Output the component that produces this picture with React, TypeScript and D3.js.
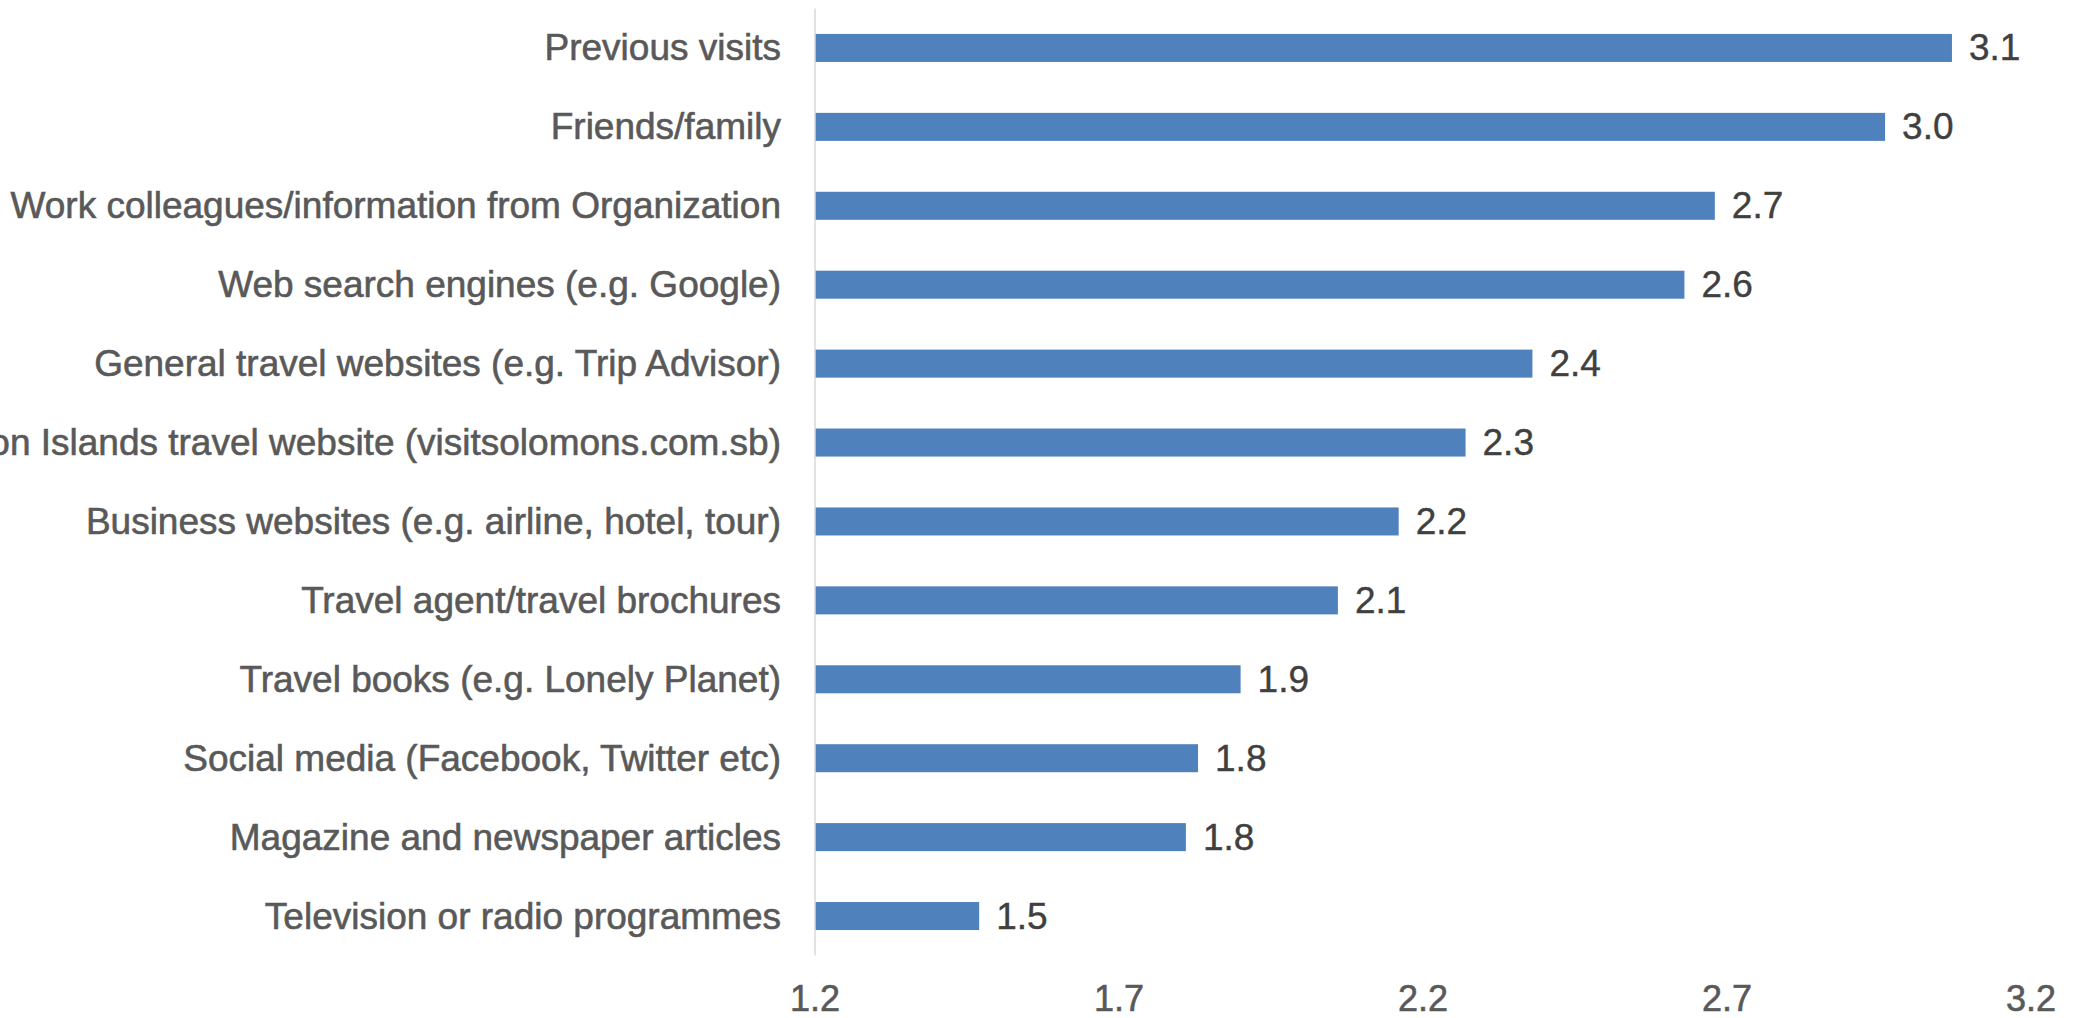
import React, { useMemo } from 'react';
import * as d3 from 'd3';

const W = 2082;
const H = 1018;

const CATEGORIES = [
  'Previous visits',
  'Friends/family',
  'Work colleagues/information from Organization',
  'Web search engines (e.g. Google)',
  'General travel websites (e.g. Trip Advisor)',
  'Solomon Islands travel website (visitsolomons.com.sb)',
  'Business websites (e.g. airline, hotel, tour)',
  'Travel agent/travel brochures',
  'Travel books (e.g. Lonely Planet)',
  'Social media (Facebook, Twitter etc)',
  'Magazine and newspaper articles',
  'Television or radio programmes',
];

const VALUES = [3.07, 2.96, 2.68, 2.63, 2.38, 2.27, 2.16, 2.06, 1.9, 1.83, 1.81, 1.47];

const X_TICKS = [1.2, 1.7, 2.2, 2.7, 3.2];

const PLOT = { left: 815, right: 2031, top: 8.5, bottom: 955.5 };

const BAR_COLOR = '#4f81bd';
const LABEL_FONT = '"Liberation Sans", Arial, sans-serif';

export default function App() {
  const x = useMemo(
    () => d3.scaleLinear().domain([1.2, 3.2]).range([PLOT.left, PLOT.right]),
    []
  );
  const y = useMemo(
    () =>
      d3
        .scaleBand<string>()
        .domain(CATEGORIES)
        .range([PLOT.top, PLOT.bottom])
        .paddingInner(0.645)
        .paddingOuter(0.3225),
    []
  );

  return (
    <svg
      width={W}
      height={H}
      viewBox={`0 0 ${W} ${H}`}
      style={{ position: 'absolute', left: 0, top: 0, background: '#fff' }}
    >
      {/* bars */}
      {CATEGORIES.map((c, i) => (
        <rect
          key={c}
          x={x(1.2)}
          y={y(c)!}
          width={x(VALUES[i]) - x(1.2)}
          height={y.bandwidth()}
          fill={BAR_COLOR}
        />
      ))}

      {/* vertical axis line */}
      <line
        x1={x(1.2)}
        x2={x(1.2)}
        y1={PLOT.top}
        y2={PLOT.bottom}
        stroke="#d9d9d9"
        strokeWidth={1.5}
      />

      {/* category labels */}
      {CATEGORIES.map((c) => (
        <text
          key={c}
          x={PLOT.left - 34}
          y={y(c)! + y.bandwidth() / 2}
          textAnchor="end"
          dominantBaseline="central"
          fontFamily={LABEL_FONT}
          fontSize={37}
          fill="#595959"
          stroke="#595959"
          strokeWidth={0.6}
        >
          {c}
        </text>
      ))}

      {/* value labels */}
      {CATEGORIES.map((c, i) => (
        <text
          key={c}
          x={x(VALUES[i]) + 17}
          y={y(c)! + y.bandwidth() / 2}
          dominantBaseline="central"
          fontFamily={LABEL_FONT}
          fontSize={37}
          fill="#404040"
          stroke="#404040"
          strokeWidth={0.4}
        >
          {VALUES[i].toFixed(1)}
        </text>
      ))}

      {/* x tick labels */}
      {X_TICKS.map((t) => (
        <text
          key={t}
          x={x(t)}
          y={1011}
          textAnchor="middle"
          fontFamily={LABEL_FONT}
          fontSize={36}
          fill="#595959"
          stroke="#595959"
          strokeWidth={0.6}
        >
          {t.toFixed(1)}
        </text>
      ))}
    </svg>
  );
}
